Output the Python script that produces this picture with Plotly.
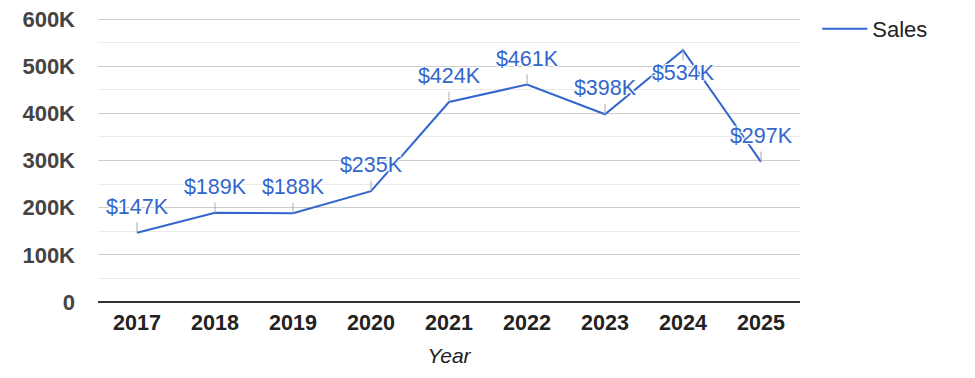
import plotly.graph_objects as go

years = ["2017", "2018", "2019", "2020", "2021", "2022", "2023", "2024", "2025"]
sales = [147000, 189000, 188000, 235000, 424000, 461000, 398000, 534000, 297000]
label_below = [False, False, False, False, False, False, False, True, False]
y_tickvals = [0, 100000, 200000, 300000, 400000, 500000, 600000]
y_ticktext = ["0", "100K", "200K", "300K", "400K", "500K", "600K"]

BLUE = "#3366cc"
FONT = "Liberation Sans, Arial, sans-serif"
STEM = 22000  # stem length in data units (style)
HALO = "1px 1px 1px white, -1px -1px 1px white, 1px -1px 1px white, -1px 1px 1px white, 0px 0px 2px white"

labels = [f"${round(v/1000)}K" for v in sales]
positions = ["bottom center" if b else "top center" for b in label_below]
stem_up = [0 if b else STEM for b in label_below]
stem_down = [STEM if b else 0 for b in label_below]

fig = go.Figure()
fig.add_trace(go.Scatter(
    x=years, y=sales, mode="lines", name="Sales",
    line=dict(color=BLUE, width=2),
))
fig.add_trace(go.Scatter(
    x=years, y=sales, mode="markers+text", showlegend=False, hoverinfo="skip",
    marker=dict(size=20, color="rgba(0,0,0,0)"),
    text=labels, textposition=positions,
    textfont=dict(family=FONT, size=21.5, color=BLUE, shadow=HALO),
    error_y=dict(type="data", symmetric=False, array=stem_up, arrayminus=stem_down,
                 color="#aaaaaa", thickness=1, width=0),
))

fig.update_layout(
    template="none",
    width=975, height=378,
    margin=dict(l=90, r=183, t=9, b=84),
    paper_bgcolor="white", plot_bgcolor="white",
    font=dict(family=FONT),
    showlegend=True,
    legend=dict(xref="container", yref="container", x=0.830, y=1.0,
                xanchor="left", yanchor="top", itemwidth=45,
                font=dict(family=FONT, size=22, color="#222222"),
                bgcolor="rgba(0,0,0,0)"),
    xaxis=dict(
        type="category", range=[-0.5, 8.5], automargin=False,
        showgrid=False, showline=False, zeroline=False, ticks="",
        tickfont=dict(family=FONT, size=21.5, color="#222222", weight="bold"),
        ticklabelstandoff=5,
        title=dict(text="Year", font=dict(family=FONT, size=21, color="#222222", style="italic"), standoff=14),
    ),
    yaxis=dict(
        range=[0, 604240], automargin=False,
        tickvals=y_tickvals, ticktext=y_ticktext,
        ticklabeloverflow="allow",
        showgrid=True, gridcolor="#cccccc", gridwidth=1,
        minor=dict(dtick=50000, showgrid=True, gridcolor="#ebebeb", gridwidth=1),
        zeroline=True, zerolinecolor="#333333", zerolinewidth=1.5,
        showline=False, ticks="",
        tickfont=dict(family=FONT, size=22, color="#444444", weight="bold"),
        ticklabelstandoff=22,
    ),
)

fig.write_html("out.html")
